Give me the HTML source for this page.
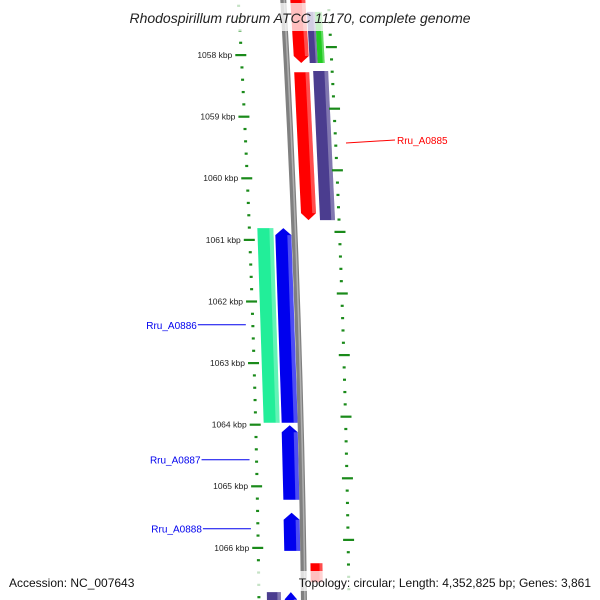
<!DOCTYPE html>
<html><head><meta charset="utf-8"><style>
html,body{margin:0;padding:0;background:#fff}
svg{display:block;font-family:"Liberation Sans","DejaVu Sans",sans-serif}
</style></head><body>
<svg id="map" width="600" height="600" viewBox="0 0 600 600">
<g id="feat"></g>
<path id="backbone" d="M283,-5 Q300.5,300 304,605" fill="none" stroke="#808080" stroke-width="6"/>
<path d="M283,-5 Q300.5,300 304,605" fill="none" stroke="#b0b0b0" stroke-width="1.5" transform="translate(1,0)"/>
<g id="ticks"></g>
<g id="labels"></g>
<rect x="0" y="3" width="600" height="28" fill="#fff" fill-opacity="0.75"/>
<text x="300" y="23" text-anchor="middle" font-size="14" font-style="italic" fill="#222">Rhodospirillum rubrum ATCC 11170, complete genome</text>
<rect x="0" y="571" width="600" height="20" fill="#fff" fill-opacity="0.75"/>
<text x="9" y="587" font-size="12" fill="#111">Accession: NC_007643</text>
<text x="591" y="587" text-anchor="end" font-size="12" fill="#111">Topology: circular; Length: 4,352,825 bp; Genes: 3,861</text>
</svg>
<script>
const majorTicks=[1058,1059,1060,1061,1062,1063,1064,1065,1066];
const tickRange=[1057.0,1067.0];
const featStart=[1056.94,1057.30,1057.30,1058.28,1058.26,1060.81,1060.81,1064.01,1065.43,1066.25,1066.72,1066.72];
const featEnd  =[1058.13,1058.13,1058.13,1060.68,1060.68,1063.97,1063.97,1065.22,1066.05,1066.56,1067.20,1067.20];
const featColor=["#ff0000","#4b3d8f","#22cc22","#ff0000","#4b3d8f","#22ee99","#0000ee","#0000ee","#0000ee","#ff0000","#4b3d8f","#0000ee"];
const featStrand=[-1,0,0,-1,0,0,1,1,1,0,0,1];
const featLaneIn=[7,23,31,7,26,-37,-19,-19,-19,7,-37,-19];
const featLaneOut=[22,31,38,22,41,-21,-3,-3,-3,19,-23,-7];
const geneNames=["Rru_A0885","Rru_A0886","Rru_A0887","Rru_A0888"];
const geneLabelPos=[1059.38,1062.38,1064.57,1065.69];
const geneColor=["#ff0000","#0000ee","#0000ee","#0000ee"];
const geneSide=[1,-1,-1,-1];

const NS="http://www.w3.org/2000/svg";
function yScale(k){return 55+(k-1058)*61.6;}
function bx(y){const t=(y+5)/610;return (1-t)*(1-t)*283+2*t*(1-t)*300.5+t*t*304;}
function mk(tag,attrs,parent){const e=document.createElementNS(NS,tag);for(const a in attrs)e.setAttribute(a,attrs[a]);parent.appendChild(e);return e;}

const fg=document.getElementById('feat');
featStart.forEach((s,i)=>{
  const y1=yScale(s),y2=yScale(featEnd[i]);
  const a=featLaneIn[i],b=featLaneOut[i];
  const l1=bx(y1)+Math.min(a,b),r1=bx(y1)+Math.max(a,b),l2=bx(y2)+Math.min(a,b),r2=bx(y2)+Math.max(a,b);
  let pts;const ah=7;
  if(featStrand[i]===1){pts=[[(l1+r1)/2,y1],[r1,y1+ah],[r2,y2],[l2,y2],[l1,y1+ah]];}
  else if(featStrand[i]===-1){pts=[[l1,y1],[r1,y1],[r2,y2-ah],[(l2+r2)/2,y2],[l2,y2-ah]];}
  else pts=[[l1,y1],[r1,y1],[r2,y2],[l2,y2]];
  const p=mk('polygon',{points:pts.map(q=>q.join(',')).join(' '),fill:featColor[i]},fg);
  
  
  const w=Math.abs(b-a),hl=Math.max(2,w*0.25);
  const hp=[[r1-hl,pts[0][1]+(featStrand[i]===1?ah:0)],[r1,y1+(featStrand[i]===1?ah:0)],[r2,y2-(featStrand[i]===-1?ah:0)],[r2-hl,y2-(featStrand[i]===-1?ah:0)]];
  const h=mk('polygon',{points:hp.map(q=>q.join(',')).join(' '),fill:'#fff','fill-opacity':0.3},fg);
  
  
});

const tg=document.getElementById('ticks');
for(let n=Math.round(tickRange[0]*5);n<=Math.round(tickRange[1]*5);n++){
  const k=n/5,major=(n%5===0);
  const y=yScale(k),x=bx(y)-45;
  const r=mk('rect',{x:major?x-6:x-1.5,y:y-1,width:major?11:3,height:2.2,fill:'#1a8a1a'},tg);
  
  
  const yr=yScale(k-0.13),xr=bx(yr)+45;
  const r2=mk('rect',{x:major?xr-5:xr-1.5,y:yr-1,width:major?11:3,height:2.2,fill:'#1a8a1a'},tg);
  
  
}
majorTicks.forEach(k=>{
  const y=yScale(k);
  const t=mk('text',{x:bx(y)-54,y:y+3,'text-anchor':'end','font-size':8.5,fill:'#222'},tg);
  t.textContent=k+' kbp';
  
  
});

const lg=document.getElementById('labels');
geneNames.forEach((nm,i)=>{
  const y=yScale(geneLabelPos[i]);
  let x1,x2,tx,anchor;
  if(geneSide[i]===1){x1=346;x2=395;tx=397;anchor='start';}
  else{x1=bx(y)-52;x2=x1-48;tx=x2-1;anchor='end';}
  const ln=mk('line',{x1:x1,y1:y+(geneSide[i]===1?3:0),x2:x2,y2:y,stroke:geneColor[i],'stroke-width':1},lg);
  
  
  const t=mk('text',{x:tx,y:y+4,'text-anchor':anchor,'font-size':10,fill:geneColor[i]},lg);
  t.textContent=nm;
  
  
});
</script>
</body></html>
